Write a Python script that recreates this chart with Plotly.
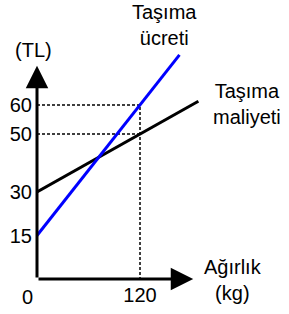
import plotly.graph_objects as go

# data
weight_kg = [0, 120]
ucret_x = [0, 120, 166]
ucret_y = [15, 60, 77.3]
maliyet_x = [0, 120, 188]
maliyet_y = [30, 50, 61.3]
y_ticks = [15, 30, 50, 60]
x_ticks = [120]

FONT = "Arial, Liberation Sans, sans-serif"
X_MAX = 209.7
Y_MAX = 90
FS = 20

fig = go.Figure()

# dotted guide lines
fig.add_trace(go.Scatter(x=[0, 120, 120], y=[60, 60, 0], mode="lines",
                         line=dict(color="black", width=1.5, dash="3px,2px"),
                         hoverinfo="skip"))
fig.add_trace(go.Scatter(x=[0, 120], y=[50, 50], mode="lines",
                         line=dict(color="black", width=1.5, dash="3px,2px"),
                         hoverinfo="skip"))

fig.add_trace(go.Scatter(x=maliyet_x, y=maliyet_y, mode="lines",
                         line=dict(color="black", width=3), hoverinfo="skip"))
fig.add_trace(go.Scatter(x=ucret_x, y=ucret_y, mode="lines",
                         line=dict(color="#0000ff", width=3), hoverinfo="skip"))

ann = []
# axes with arrows
ann.append(dict(x=0, y=73.5, ax=0, ay=0, xref="x", yref="y", axref="x", ayref="y",
                text="", showarrow=True, arrowhead=2, arrowsize=1.5, arrowwidth=3,
                arrowcolor="black", standoff=0))
ann.append(dict(x=182, y=0, ax=0, ay=0, xref="x", yref="y", axref="x", ayref="y",
                text="", showarrow=True, arrowhead=2, arrowsize=1.5, arrowwidth=3,
                arrowcolor="black", standoff=0))

def label(x, y, t):
    ann.append(dict(x=x / X_MAX, y=y / Y_MAX, xref="paper", yref="paper", text=t,
                    showarrow=False,
                    font=dict(family=FONT, size=FS, color="black"),
                    xanchor="center", yanchor="middle", align="center"))

label(149, 87.5, "Taşıma<br>ücreti")
label(245, 60.5, "Taşıma<br>maliyeti")
label(228.5, -0.5, "Ağırlık<br>(kg)")
label(-4.5, 79, "(TL)")
label(-11.5, -6.2, "0")

fig.update_layout(
    width=289, height=314,
    margin=dict(l=37, r=72, t=18, b=35, autoexpand=False),
    paper_bgcolor="white", plot_bgcolor="white",
    showlegend=False,
    annotations=ann,
    xaxis=dict(range=[0, X_MAX], showgrid=False, zeroline=False, showline=False,
               automargin=False,
               tickvals=x_ticks, ticktext=[str(v) for v in x_ticks], ticks="",
               tickfont=dict(family=FONT, size=FS, color="black"),
               ticklabelstandoff=2),
    yaxis=dict(range=[0, Y_MAX], showgrid=False, zeroline=False, showline=False,
               automargin=False,
               tickvals=y_ticks, ticktext=[str(v) for v in y_ticks], ticks="",
               tickfont=dict(family=FONT, size=FS, color="black"),
               ticklabelstandoff=4),
)

fig.write_html("out.html", config=dict(displayModeBar=False),
               post_script="document.body.style.margin='0';document.body.style.overflow='hidden';")
